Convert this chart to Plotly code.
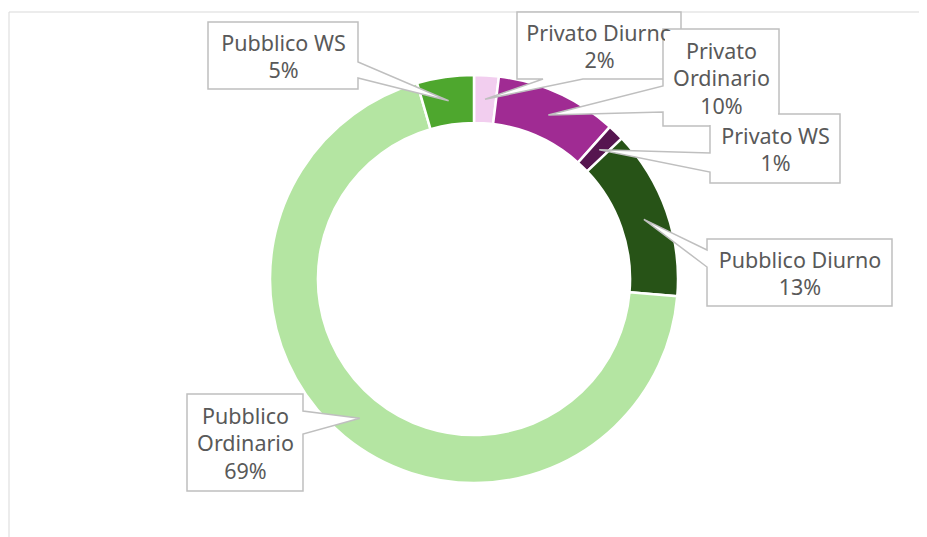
import math
import plotly.graph_objects as go

# ---- data ----
categories = ["Privato Diurno", "Privato Ordinario", "Privato WS",
              "Pubblico Diurno", "Pubblico Ordinario", "Pubblico WS"]
display_labels = ["Privato Diurno", "Privato<br>Ordinario", "Privato WS",
                  "Pubblico Diurno", "Pubblico<br>Ordinario", "Pubblico WS"]
values = [1.95, 9.65, 1.3, 13.45, 69.15, 4.5]
colors = ["#F2CEEF", "#A02B93", "#561550", "#275317", "#B4E5A2", "#4EA72E"]

W, H = 927, 537
OFF = 8  # page body margin
CX, CY, R, HOLE = 474, 279, 204, 0.765

# callout boxes (pixel: left, top, right, bottom), the edge the pointer leaves from,
# and the two base positions along that edge
boxes = [
    (517, 12, 681, 79),
    (663, 29, 779, 126),
    (710, 114, 840, 183),
    (707, 239, 892, 306),
    (187, 394, 303, 491),
    (208, 22, 358, 89),
]
base_edge = ["bottom", "left", "left", "left", "right", "right"]
base_pos = [(583, 543), (112, 86), (172, 153), (267, 250), (411, 434), (62, 78)]
# only the box that must hide the text of the box beneath it gets a background
opaque = [False, True, False, False, False, False]

def px(x):
    return (x - OFF) / W

def py(y):
    return 1 - (y - OFF) / H

fig = go.Figure(go.Pie(
    labels=categories, values=values, sort=False, direction="clockwise",
    rotation=0, hole=HOLE, textinfo="none", hoverinfo="label+percent",
    marker=dict(colors=colors, line=dict(color="white", width=2.5)),
    domain=dict(x=[px(CX - R), px(CX + R)], y=[py(CY + R), py(CY - R)]),
    showlegend=False,
))

shapes = [
    dict(type="line", xref="paper", yref="paper", x0=px(9), x1=px(935), y0=py(12), y1=py(12),
         line=dict(color="#D9D9D9", width=1)),
    dict(type="line", xref="paper", yref="paper", x0=px(9), x1=px(9), y0=py(12), y1=py(545),
         line=dict(color="#D9D9D9", width=1)),
]

def callout_points(box, edge, pos, tip):
    l, t, r, b = box
    p1, p2 = pos
    pts = [(l, t)]
    if edge == "top":
        pts += [(p1, t), tip, (p2, t)]
    pts.append((r, t))
    if edge == "right":
        pts += [(r, p1), tip, (r, p2)]
    pts.append((r, b))
    if edge == "bottom":
        pts += [(p1, b), tip, (p2, b)]
    pts.append((l, b))
    if edge == "left":
        pts += [(l, p1), tip, (l, p2)]
    return pts

annotations = []
total = sum(values)
cum = 0.0
r_tip = R * (1 + HOLE) / 2
for i, v in enumerate(values):
    mid = (cum + v / 2) / total * 360
    cum += v
    tip = (CX + r_tip * math.sin(math.radians(mid)),
           CY - r_tip * math.cos(math.radians(mid)))
    pts = callout_points(boxes[i], base_edge[i], base_pos[i], tip)
    path = "M " + " L ".join(f"{px(x):.5f},{py(y):.5f}" for x, y in pts) + " Z"
    shapes.append(dict(type="path", xref="paper", yref="paper", path=path,
                       fillcolor="white", line=dict(color="#BFBFBF", width=1.5), layer="above"))
    l, t, r_, b = boxes[i]
    pct = int(math.floor(v / total * 100 + 0.5))
    annotations.append(dict(
        xref="paper", yref="paper", x=px(l + 1.5), y=py(t + 1.5), xanchor="left", yanchor="top",
        width=r_ - l - 3, height=b - t - 3, showarrow=False, align="center", valign="middle",
        text=f"{display_labels[i]}<br>{pct}%",
        font=dict(family="Noto Sans", size=21.5, color="#595959"),
        bgcolor="white" if opaque[i] else "rgba(0,0,0,0)", borderwidth=0, borderpad=0,
    ))

fig.update_layout(
    width=W, height=H, margin=dict(l=0, r=0, t=0, b=0),
    paper_bgcolor="white", plot_bgcolor="white",
    shapes=shapes, annotations=annotations,
)
fig.write_html("out.html")
